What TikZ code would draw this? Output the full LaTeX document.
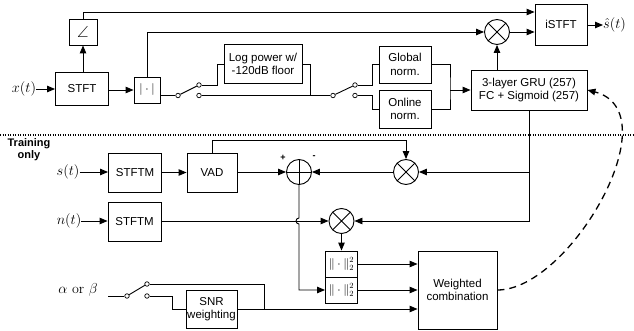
\documentclass[tikz,border=0pt]{standalone}
\usepackage{fontspec}
\setsansfont{Liberation Sans}
\usepackage{amsmath,amssymb}
\usetikzlibrary{arrows.meta,positioning}

\begin{document}
\begin{tikzpicture}[
    x=1pt, y=-1pt,
    every node/.style={font=\sffamily\fontsize{11.5}{13.5}\selectfont},
    box/.style={draw, line width=0.9pt, align=center, inner sep=1pt},
    signal/.style={font=\rmfamily\fontsize{14}{16}\selectfont, inner sep=0pt},
    mult/.style={draw, line width=0.9pt, circle, minimum size=25pt, inner sep=0pt,
        path picture={\draw[line width=0.9pt] (path picture bounding box.north west) -- (path picture bounding box.south east)
            (path picture bounding box.north east) -- (path picture bounding box.south west);}},
    adder/.style={draw, line width=0.9pt, circle, minimum size=25pt, inner sep=0pt,
        path picture={\draw[line width=0.9pt] (path picture bounding box.north) -- (path picture bounding box.south)
            (path picture bounding box.west) -- (path picture bounding box.east);}},
    contact/.style={draw, circle, line width=0.7pt, fill=white, minimum size=4.5pt, inner sep=0pt},
    wire/.style={line width=0.9pt},
    flow/.style={-{Triangle[length=8pt,width=6.5pt]}, line width=0.9pt},
    feedback/.style={-{Triangle[length=8pt,width=6.5pt]}, line width=1.3pt, dash pattern=on 7pt off 5pt}
]
\useasboundingbox (0,0) rectangle (634,331);

% inference path
\node[signal] (xlab) at (24,89) {$x(t)$};
\node[box, minimum width=53pt, minimum height=33pt] (stft) at (82,88.5) {STFT};
\node[box, minimum width=28pt, minimum height=26pt, font=\fontsize{16}{16}\selectfont] (angle) at (83,32) {$\angle$};
\node[box, minimum width=26pt, minimum height=26pt] (mag) at (147,90) {$|\cdot|$};
\node[contact] (sw1p) at (178,95.5) {};
\node[contact] (sw1a) at (199,85) {};
\node[contact] (sw1b) at (199,95.5) {};
\node[box, minimum width=78pt, minimum height=39pt] (logp) at (263,64) {Log power w/\\-120dB floor};
\node[contact] (sw2p) at (333,95.5) {};
\node[contact] (sw2a) at (355,85) {};
\node[contact] (sw2b) at (355,95.5) {};
\node[box, minimum width=52pt, minimum height=37pt] (glob) at (405,64.5) {Global\\norm.};
\node[box, minimum width=52pt, minimum height=38pt] (onl) at (405,109) {Online\\norm.};
\coordinate (njoin) at (450,90);
\node[box, minimum width=116pt, minimum height=40pt] (gru) at (529,90) {3-layer GRU (257)\\FC + Sigmoid (257)};
\node[mult] (mult0) at (497,32) {};
\node[box, minimum width=52pt, minimum height=41pt] (istft) at (561,24.5) {iSTFT};
\node[signal, anchor=west] (shat) at (603,25) {$\hat{s}(t)$};

\draw[flow] (xlab) -- (stft.west |- xlab);
\draw[flow] (stft.north -| angle) -- (angle.south);
\draw[flow] (angle.north) |- ([yshift=12.5pt]istft.west);
\draw[flow] (stft.east |- mag) -- (mag.west);
\draw[flow] (mag.north) |- (mult0.west);
\draw[wire] (mag.east |- sw1p) -- (sw1p);
\draw[wire] (sw1p) -- (sw1a);
\draw[wire] (sw1a.east) -| ([xshift=-6pt]logp.west) -- (logp.west);
\draw[wire] (sw1b) -- (sw2p);
\draw[wire] (logp.east) -| ([xshift=8pt]logp.east |- sw2p);
\draw[wire] (sw2p) -- (sw2a);
\draw[wire] (sw2a.east) -| ([xshift=-6pt]glob.west) -- (glob.west);
\draw[wire] (sw2b.east) -| ([xshift=-6pt]onl.west) -- (onl.west);
\draw[wire] (glob.east) -| (njoin) |- (onl.east);
\draw[flow] (njoin) -- (gru.west);
\draw[flow] (gru.north -| mult0) -- (mult0.south);
\draw[flow] (mult0.east) -- (mult0.east -| istft.west);
\draw[flow] (istft.east |- shat) -- (shat.west);

% training only
\draw[line width=1.3pt, dash pattern=on 1.2pt off 1.3pt] (0,135) -- (634,135);
\node[font=\sffamily\bfseries\fontsize{11}{12}\selectfont, align=center] (train) at (29,150) {Training\\only};

\node[signal] (slab) at (68,172) {$s(t)$};
\node[box, minimum width=53pt, minimum height=39pt] (stftms) at (135,172.5) {STFTM};
\node[box, minimum width=50pt, minimum height=39pt] (vad) at (212,172.5) {VAD};
\node[adder] (sum) at (299,172) {};
\node[font=\sffamily\bfseries\fontsize{9}{9}\selectfont] (plus) at (283,158) {+};
\node[font=\sffamily\bfseries\fontsize{9}{9}\selectfont] (minus) at (314,157) {-};
\node[mult] (mults) at (406,172) {};
\node[signal] (nlab) at (69,221) {$n(t)$};
\node[box, minimum width=53pt, minimum height=39pt] (stftmn) at (134.5,221.5) {STFTM};
\node[mult] (multn) at (341.5,221) {};
\node[box, minimum width=32pt, minimum height=26pt, inner sep=0pt] (norma) at (341.5,264) {$\|\cdot\|_2^2$};
\node[box, minimum width=32pt, minimum height=26pt, inner sep=0pt] (normb) at (341.5,290) {$\|\cdot\|_2^2$};
\node[box, minimum width=79pt, minimum height=78pt] (wc) at (457.5,290) {Weighted\\combination};
\node[signal] (ablab) at (78,290) {$\alpha$ or $\beta$};
\coordinate (abin) at (108,296);
\node[contact] (sw3p) at (127,296) {};
\node[contact] (sw3a) at (147,284) {};
\node[contact] (sw3b) at (147,296) {};
\node[box, minimum width=51pt, minimum height=38pt] (snr) at (211.5,309) {SNR\\weighting};

\draw[flow] (slab) -- (stftms.west |- slab);
\draw[flow] (stftms.east |- vad) -- (vad.west);
\draw[flow] (vad.east |- sum) -- (sum.west);
\draw[flow] (vad.north) -- ++(0,12pt) -| (mults.north);
\draw[flow] (gru.south) |- (multn.east);
\draw[flow] (gru.south |- mults) -- (mults.east);
\draw[flow] (mults.west) -- (sum.east);
\draw[flow] (sum.south) -- ([yshift=3pt]sum.south |- multn) arc[start angle=90, end angle=270, radius=3pt] |- (normb.west);
\draw[flow] (nlab) -- (stftmn.west |- nlab);
\draw[flow] (stftmn.east |- multn) -- (multn.west);
\draw[flow] (multn.south) -- (norma.north);
\draw[flow] (norma.east) -- (norma.east -| wc.west);
\draw[flow] (normb.east) -- (normb.east -| wc.west);
\draw[wire] (abin) -- (sw3p);
\draw[wire] (sw3p) -- (sw3a);
\draw[wire] (sw3b.east) -| ([xshift=-13pt]snr.west) -- (snr.west);
\draw[wire] (sw3a.east) -| ([xshift=27pt]snr.east);
\draw[flow] (snr.east) -- (snr.east -| wc.west);
\draw[feedback] (wc.east) .. controls (570,290) and (672,112) .. (gru.east);
\end{tikzpicture}
\end{document}
